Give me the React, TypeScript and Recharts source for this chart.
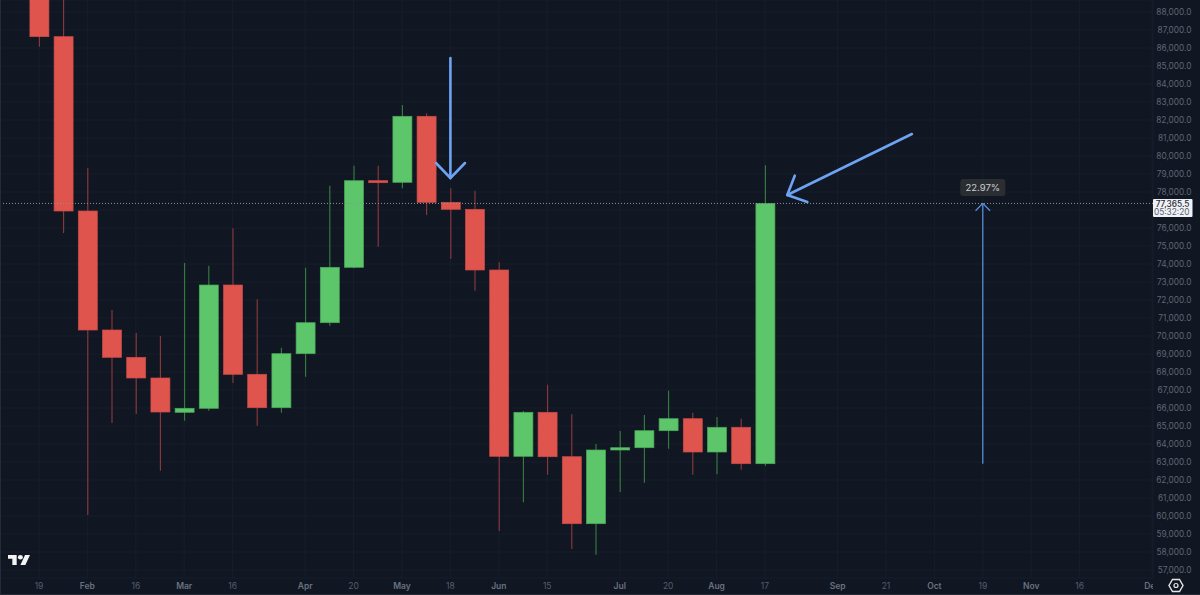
import {
  ComposedChart,
  CartesianGrid,
  XAxis,
  YAxis,
  Bar,
  ReferenceLine,
  ReferenceDot,
} from "recharts";

const opens = [
  90000, 86630, 76944, 70333, 68817, 67667, 65761, 65983, 72833, 67872, 66017,
  69017, 70739, 73817, 78628, 78539, 82206, 77428, 77039, 73667, 63317, 65761,
  63294, 59572, 63667, 63794, 64739, 65406, 63556, 64928, 62906,
];
const closes = [
  86630, 76944, 70333, 68817, 67667, 65778, 65983, 72833, 67872, 66017, 69017,
  70739, 73817, 78628, 78517, 82206, 77428, 77039, 73667, 63317, 65761, 63294,
  59572, 63667, 63794, 64739, 65406, 63556, 64928, 62906, 77365.5,
];
const highs = [
  90500, 89500, 79333, 71444, 70167, 70000, 74056, 73906, 75983, 72039, 69350,
  73794, 78350, 79461, 79461, 82833, 82372, 78206, 78072, 74094, 65833, 67294,
  65650, 64000, 64722, 65611, 66961, 65739, 65500, 65406, 79483,
];
const lows = [
  86070, 75722, 60056, 65167, 65667, 62517, 65294, 65850, 67389, 65017, 65739,
  67739, 70572, 73761, 74961, 78206, 76722, 74278, 72517, 59167, 60761, 62294,
  58167, 57850, 61333, 61850, 63739, 62294, 62317, 62572, 62778,
];

const xTicks = [0, 2, 4, 6, 8, 11, 13, 15, 17, 19, 21, 24, 26, 28, 30, 33, 35, 37, 39, 41, 43, 46];
const xLabels = [
  "19", "Feb", "16", "Mar", "16", "Apr", "20", "May", "18", "Jun", "15", "Jul",
  "20", "Aug", "17", "Sep", "21", "Oct", "19", "Nov", "16", "Dec",
];
const yTicks = [
  57000, 58000, 59000, 60000, 61000, 62000, 63000, 64000, 65000, 66000, 67000,
  68000, 69000, 70000, 71000, 72000, 73000, 74000, 75000, 76000, 77000, 78000,
  79000, 80000, 81000, 82000, 83000, 84000, 85000, 86000, 87000, 88000,
];

const lastPrice = 77365.5;
const coveredTick = 77000; // sits behind the price tag
const countdown = "05:32:20";
const moveLabel = "22.97%";

// hand drawn arrows, in candle index / price
const thickArrows = [
  [{ x: 17, y: 85444 }, { x: 17, y: 78778 }],
  [{ x: 16.405, y: 79611 }, { x: 17, y: 78778 }],
  [{ x: 17.603, y: 79611 }, { x: 17, y: 78778 }],
  [{ x: 36.07, y: 81222 }, { x: 30.92, y: 77833 }],
  [{ x: 31.23, y: 78906 }, { x: 30.92, y: 77833 }],
  [{ x: 31.75, y: 77444 }, { x: 30.92, y: 77833 }],
];
const thinArrows = [
  [{ x: 39, y: 62906 }, { x: 39, y: 77365.5 }],
  [{ x: 38.7, y: 76961 }, { x: 39, y: 77365.5 }],
  [{ x: 39.3, y: 76961 }, { x: 39, y: 77365.5 }],
];

const candles = opens.map((open, i) => ({
  index: i,
  open,
  close: closes[i],
  high: highs[i],
  low: lows[i],
}));

const BG = "#101722";
const UP = "#5DC56A";
const DOWN = "#E0544E";
const MONTHS = ["Feb", "Mar", "Apr", "May", "Jun", "Jul", "Aug", "Sep", "Oct", "Nov", "Dec"];
const FONT = "Inter, 'Noto Sans', sans-serif";

const fmtPrice = (v: number) =>
  v.toLocaleString("en-US", { minimumFractionDigits: 1, maximumFractionDigits: 1 });

const Candle = (props: any) => {
  const { x, y, width, height, payload } = props;
  const up = payload.close >= payload.open;
  const perUnit = height / (payload.high - payload.low);
  const top = y + (payload.high - Math.max(payload.open, payload.close)) * perUnit;
  const bottom = y + (payload.high - Math.min(payload.open, payload.close)) * perUnit;
  const cx = x + width / 2;
  return (
    <g>
      <line
        x1={cx}
        x2={cx}
        y1={y}
        y2={y + height}
        stroke={up ? "#35803F" : "#8E3A3B"}
        strokeWidth={1.1}
      />
      <rect
        x={x}
        y={top}
        width={width}
        height={Math.max(bottom - top, 2)}
        fill={up ? UP : DOWN}
        stroke={up ? "#4BA859" : "#C94C48"}
        strokeWidth={0.7}
      />
    </g>
  );
};

const DateTick = ({ x, y, payload }: any) => {
  const label = xLabels[xTicks.indexOf(payload.value)];
  const isMonth = MONTHS.includes(label);
  return (
    <text
      x={x}
      y={y + 3}
      textAnchor="middle"
      fontSize={8.5}
      fontWeight={isMonth ? 600 : 400}
      fontFamily={FONT}
      fill={isMonth ? "#6A7180" : "#565D6C"}
    >
      {label}
    </text>
  );
};

const PriceTick = ({ x, y, payload }: any) => {
  if (payload.value === coveredTick) return null;
  return (
    <text x={x + 30.5} y={y + 3} textAnchor="end" fontSize={8.3} fontFamily={FONT} fill="#5F6675">
      {fmtPrice(payload.value)}
    </text>
  );
};

const PriceTag = ({ viewBox }: any) => {
  const left = viewBox.x + viewBox.width;
  const y = viewBox.y;
  return (
    <g fontFamily={FONT} fontSize={8.3} textAnchor="end">
      <rect x={left} y={y - 4.5} width={39.5} height={18} fill="#EEF1F5" rx={1} />
      <text x={left + 36.5} y={y + 3.2} fill="#1F2530" fontWeight={500}>
        {fmtPrice(lastPrice)}
      </text>
      <text x={left + 36.5} y={y + 11.7} fill="#5A6270">
        {countdown}
      </text>
    </g>
  );
};

const MoveTag = ({ cx, cy }: any) => (
  <g>
    <rect x={cx - 22.5} y={cy - 8.5} width={45} height={17} rx={3} fill="#2A2E33" />
    <text
      x={cx}
      y={cy + 3.5}
      textAnchor="middle"
      fontSize={9.5}
      fontFamily={FONT}
      fill="#C9CCD1"
    >
      {moveLabel}
    </text>
  </g>
);

export default function App() {
  return (
    <div style={{ position: "absolute", left: 0, top: 0, width: 1200, height: 595, background: BG, overflow: "hidden" }}>
      <ComposedChart
        width={1200}
        height={595}
        data={candles}
        margin={{ top: 0, right: 0, bottom: 0, left: 0 }}
      >
        <CartesianGrid stroke="#171E2A" strokeWidth={1} />
        <XAxis
          dataKey="index"
          type="number"
          domain={[-1.6116, 46.033]}
          allowDataOverflow
          ticks={xTicks}
          interval={0}
          height={17}
          axisLine={false}
          tickLine={false}
          tick={<DateTick />}
        />
        <YAxis
          orientation="right"
          type="number"
          domain={[56556, 88667]}
          allowDataOverflow
          ticks={yTicks}
          interval={0}
          width={47}
          axisLine={false}
          tickLine={false}
          tick={<PriceTick />}
        />
        <Bar
          dataKey={(d: any) => [d.low, d.high]}
          barSize={19}
          shape={<Candle />}
          isAnimationActive={false}
        />
        <ReferenceLine
          y={lastPrice}
          stroke="#8D939E"
          strokeDasharray="1 2"
          strokeWidth={1}
          label={<PriceTag />}
        />
        {thinArrows.map((segment, i) => (
          <ReferenceLine key={i} segment={segment} stroke="#5B96E8" strokeWidth={1.2} />
        ))}
        {thickArrows.map((segment, i) => (
          <ReferenceLine
            key={i}
            segment={segment}
            stroke="#6EA2F2"
            strokeWidth={2.6}
            strokeLinecap="round"
          />
        ))}
        <ReferenceDot x={39} y={78250} r={1} shape={<MoveTag />} />
      </ComposedChart>

      <svg
        width={1200}
        height={595}
        style={{ position: "absolute", left: 0, top: 0, pointerEvents: "none" }}
      >
        <rect x={0} y={0} width={1} height={595} fill="#262C37" />
        <rect x={0} y={594} width={1200} height={1} fill="#262C37" />
        <rect x={1153} y={578} width={47} height={16} fill={BG} />
        <g transform="translate(8 555) scale(0.62 0.55)" fill="#F4F4F4">
          <path d="M14 22H7V11H0V4h14v18zM28 22h-8l7.5-18h8L28 22z" transform="translate(0 -4)" />
          <circle cx={20} cy={4} r={4} />
        </g>
        <g fill="none" stroke="#E6E7EA">
          <path d="M1172.5 579.5h7l3.5 6-3.5 6h-7l-3.5-6z" strokeWidth={1.4} />
          <circle cx={1176} cy={585.5} r={2} strokeWidth={1.2} />
        </g>
      </svg>
    </div>
  );
}
